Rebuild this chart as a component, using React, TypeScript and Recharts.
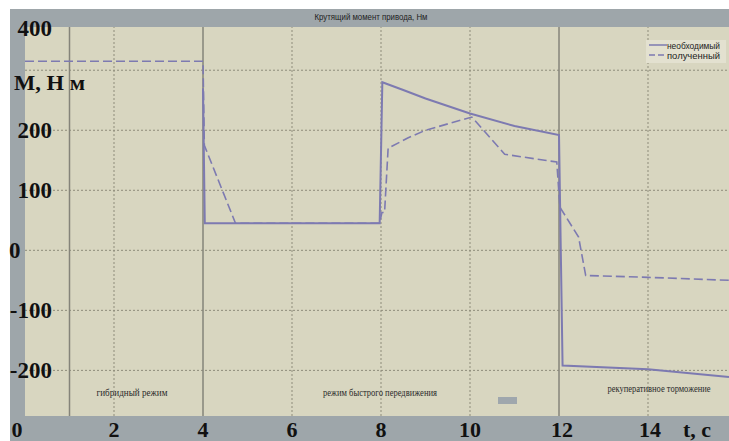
/*
 * Drive torque chart: required vs obtained torque over time, three driving modes.
 */
import {
  CartesianGrid,
  Legend,
  Line,
  LineChart,
  ReferenceLine,
  XAxis,
  YAxis,
} from 'recharts';

const requiredTime = [4, 4.04, 7.97, 8.03, 8.5, 9, 10, 11, 12, 12.08, 14, 15.82];
const requiredTorque = [270, 45, 45, 280, 267, 253, 228, 207, 192, -192, -198, -211];

const obtainedTime = [0, 4, 4.03, 4.73, 7.97, 8.02, 8.08, 8.16, 8.6, 9, 10.04, 10.78, 11.95, 12.02, 12.44, 12.6, 14, 15.82];
const obtainedTorque = [315, 315, 175, 45, 45, 63, 63, 170, 187, 200, 222, 160, 147, 72, 22, -42, -45, -50];

const xTicks = [0, 2, 4, 6, 8, 10, 12, 14];
const yTicks = [200, 100, 0, -100, -200];
const solidGridX = [1, 4, 12];
const dottedGridX = [2, 6, 8, 10, 14];
const dottedGridY = [300, 200, 100, 0, -100, -200];

const seriesNames = ['необходимый', 'полученный'];
const title = 'Крутящий момент привода, Нм';
const modeLabels = ['гибридный режим', 'режим быстрого передвижения', 'рекуперативное торможение'];

const requiredData = requiredTime.map((t, i) => ({ t, m: requiredTorque[i] }));
const obtainedData = obtainedTime.map((t, i) => ({ t, m: obtainedTorque[i] }));

const LINE = '#7d7ab1';
const BEIGE = '#d8d6c0';
const FRAME = '#9ea6aa';
const GRID = '#8e8c7a';
const SERIF = '"Liberation Serif", "Times New Roman", serif';
const NARROW = '"Liberation Sans Narrow", "Arial Narrow", "Liberation Sans", sans-serif';

const xTickShift: Record<number, number> = { 0: -8, 12: 3, 14: 2 };

function XTick({ x, payload }: any) {
  return (
    <text
      x={x + (xTickShift[payload.value] ?? 0)}
      y={437}
      textAnchor="middle"
      fontFamily={SERIF}
      fontWeight="bold"
      fontSize={22}
      fill="#111"
    >
      {payload.value}
    </text>
  );
}

function YTick({ y, payload }: any) {
  const zero = payload.value === 0;
  return (
    <text
      x={zero ? 9 : 52}
      y={y + 8}
      textAnchor={zero ? 'start' : 'end'}
      fontFamily={SERIF}
      fontWeight="bold"
      fontSize={23}
      fill="#111"
    >
      {payload.value}
    </text>
  );
}

function LegendBox() {
  return (
    <div style={{ background: '#e3e1d0', width: 80, height: 23 }}>
      <svg width={80} height={23} style={{ display: 'block' }}>
        {seriesNames.map((name, i) => (
          <g key={name}>
            <line
              x1={3}
              x2={21}
              y1={5 + i * 10}
              y2={5 + i * 10}
              stroke={LINE}
              strokeWidth={1.5}
              strokeDasharray={i === 1 ? '6 3' : undefined}
            />
            <text
              x={21}
              y={8.5 + i * 10}
              fontFamily={NARROW}
              fontSize={9}
              fill="#222"
              textLength={53}
              lengthAdjust="spacingAndGlyphs"
            >
              {name}
            </text>
          </g>
        ))}
      </svg>
    </div>
  );
}

export default function App() {
  return (
    <div style={{ position: 'absolute', left: 0, top: 0, width: 729, height: 441, background: '#fff', overflow: 'hidden' }}>
      <div style={{ position: 'absolute', left: 10, top: 9, right: 0, bottom: 0, background: FRAME }} />
      <div style={{ position: 'absolute', left: 0, top: 0 }}>
        <LineChart width={729} height={441} margin={{ top: 27, right: 0, bottom: 0, left: 0 }}>
          <CartesianGrid horizontal={false} vertical={false} fill={BEIGE} />
          <XAxis
            type="number"
            dataKey="t"
            domain={[0, 15.82]}
            ticks={xTicks}
            interval={0}
            height={25}
            axisLine={false}
            tickLine={false}
            tick={XTick}
            allowDataOverflow
          />
          <YAxis
            type="number"
            domain={[-276, 372]}
            ticks={yTicks}
            interval={0}
            width={25}
            axisLine={false}
            tickLine={false}
            tick={YTick}
            allowDataOverflow
          />
          {dottedGridY.map((v) => (
            <ReferenceLine key={`h${v}`} y={v} stroke={GRID} strokeDasharray="2 2" strokeWidth={1} />
          ))}
          {dottedGridX.map((v) => (
            <ReferenceLine key={`d${v}`} x={v} stroke={GRID} strokeDasharray="2 2" strokeWidth={1} />
          ))}
          {solidGridX.map((v) => (
            <ReferenceLine key={`s${v}`} x={v} stroke="#85847a" strokeWidth={1.5} />
          ))}
          <Legend
            layout="vertical"
            align="center"
            verticalAlign="middle"
            content={LegendBox}
            wrapperStyle={{ left: 646, top: 40, width: 80, height: 23 }}
          />
          <Line
            data={obtainedData}
            dataKey="m"
            name={seriesNames[1]}
            type="linear"
            stroke={LINE}
            strokeWidth={1.6}
            strokeDasharray="9 4"
            dot={false}
            isAnimationActive={false}
          />
          <Line
            data={requiredData}
            dataKey="m"
            name={seriesNames[0]}
            type="linear"
            stroke={LINE}
            strokeWidth={2}
            dot={false}
            isAnimationActive={false}
          />
        </LineChart>
      </div>
      <svg width={729} height={441} style={{ position: 'absolute', left: 0, top: 0, pointerEvents: 'none' }}>
        <text x={371} y={20} textAnchor="middle" fontFamily={NARROW} fontSize={9} fill="#222" textLength={113} lengthAdjust="spacingAndGlyphs">
          {title}
        </text>
        <text x={52} y={36} textAnchor="end" fontFamily={SERIF} fontWeight="bold" fontSize={23} fill="#111">400</text>
        <text x={14} y={90} fontFamily={SERIF} fontWeight="bold" fontSize={22} fill="#111" textLength={71} lengthAdjust="spacingAndGlyphs">M, H м</text>
        <text x={683} y={437} fontFamily={SERIF} fontWeight="bold" fontSize={22} fill="#111">t, c</text>
        <text x={132} y={396} textAnchor="middle" fontFamily={SERIF} fontSize={10} fill="#2a2a2a" textLength={71} lengthAdjust="spacingAndGlyphs">{modeLabels[0]}</text>
        <text x={380} y={396} textAnchor="middle" fontFamily={SERIF} fontSize={10} fill="#2a2a2a" textLength={114} lengthAdjust="spacingAndGlyphs">{modeLabels[1]}</text>
        <text x={659} y={392} textAnchor="middle" fontFamily={SERIF} fontSize={10} fill="#2a2a2a" textLength={103} lengthAdjust="spacingAndGlyphs">{modeLabels[2]}</text>
        <rect x={498} y={397} width={19} height={7} fill="#9fa7ad" />
      </svg>
    </div>
  );
}
